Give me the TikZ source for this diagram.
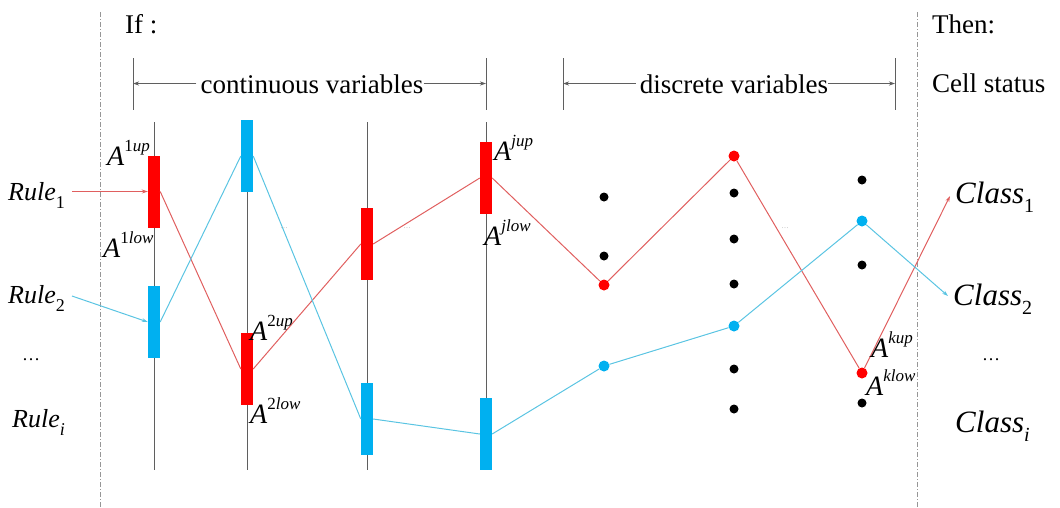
\documentclass[tikz,border=0pt]{standalone}
\usepackage{fontspec}
\setmainfont{Liberation Serif}
\usetikzlibrary{arrows.meta}
\definecolor{barred}{RGB}{255,0,0}
\definecolor{barblue}{RGB}{0,176,240}
\definecolor{linered}{RGB}{224,95,95}
\definecolor{lineblue}{RGB}{90,196,226}
\definecolor{axisgray}{RGB}{95,95,95}
\definecolor{sepgray}{RGB}{150,150,150}
\newcommand{\bigit}{\fontsize{26}{28}\selectfont\itshape}
\newcommand{\Aitsz}{\fontsize{28}{30}\selectfont\itshape}
\newcommand{\supsz}{\fontsize{17}{18}\selectfont}
\newcommand{\Asup}[2]{A\raisebox{14pt}{\supsz{\upshape #1}#2}}
\newcommand{\Lsub}[2]{#1\raisebox{-8pt}{\fontsize{18}{18}\selectfont #2}}
\newcommand{\Csub}[2]{#1\raisebox{-9pt}{\fontsize{20}{20}\selectfont #2}}
\tikzset{
  txt/.style={font=\fontsize{27}{29}\selectfont, inner sep=0pt, anchor=base west},
  lab/.style={font=\bigit, inner sep=0pt, anchor=base west},
  alab/.style={font=\Aitsz, inner sep=0pt, anchor=base west},
  clab/.style={font=\fontsize{31}{33}\selectfont\itshape, inner sep=0pt, anchor=base west},
  axisline/.style={draw=axisgray, line width=0.9pt},
  redbar/.style={fill=barred, minimum width=12pt, minimum height=72pt, inner sep=0pt},
  bluebar/.style={fill=barblue, minimum width=12pt, minimum height=72pt, inner sep=0pt},
  rline/.style={draw=linered, line width=1pt},
  bline/.style={draw=lineblue, line width=1pt},
  rdot/.style={circle, fill=barred, minimum size=11pt, inner sep=0pt},
  bdot/.style={circle, fill=barblue, minimum size=11pt, inner sep=0pt},
  kdot/.style={circle, fill=black, minimum size=9pt, inner sep=0pt},
  sepline/.style={draw=sepgray, line width=0.9pt, dash pattern=on 5pt off 2pt on 1pt off 2pt},
  brk/.style={draw=axisgray, line width=0.9pt},
  arr/.style={-{Stealth[length=6pt,width=4pt]}},
  faint/.style={font=\fontsize{7}{7}\selectfont, text=black!35, inner sep=0pt},
  ell/.style={font=\fontsize{18}{18}\selectfont, inner sep=0pt},
}
\begin{document}
\begin{tikzpicture}[x=1pt,y=-1pt]
\useasboundingbox (0,0) rectangle (1060,507);

% separators
\coordinate (s1t) at (100,12); \coordinate (s1b) at (100,507);
\coordinate (s2t) at (917,12); \coordinate (s2b) at (917,507);
\draw[sepline] (s1t) -- (s1b);
\draw[sepline] (s2t) -- (s2b);

% headers
\node[txt] (if) at (125,33) {If :};
\node[txt] (then) at (932,33) {Then:};
\node[txt] (cell) at (932,92) {Cell status};

% brackets
\coordinate (c1t) at (133,58); \coordinate (c1b) at (133,110);
\coordinate (c2t) at (486,58); \coordinate (c2b) at (486,110);
\coordinate (d1t) at (563,58); \coordinate (d1b) at (563,110);
\coordinate (d2t) at (895,58); \coordinate (d2b) at (895,110);
\draw[brk] (c1t) -- (c1b);
\draw[brk] (c2t) -- (c2b);
\draw[brk] (d1t) -- (d1b);
\draw[brk] (d2t) -- (d2b);
\coordinate (cla) at (133,83.5); \coordinate (cra) at (486,83.5);
\coordinate (dla) at (563,83.5); \coordinate (dra) at (895,83.5);
\node[font=\fontsize{27}{29}\selectfont, inner xsep=4pt, inner ysep=0pt, anchor=base] (cv) at (312,93) {continuous variables};
\node[font=\fontsize{27}{29}\selectfont, inner xsep=4pt, inner ysep=0pt, anchor=base] (dv) at (734,93) {discrete variables};
\draw[brk, arr] (cv.west |- cla) -- (cla);
\draw[brk, arr] ([xshift=-4pt]cv.east |- cra) -- (cra);
\draw[brk, arr] (dv.west |- dla) -- (dla);
\draw[brk, arr] ([xshift=-4pt]dv.east |- dra) -- (dra);

% axes
\foreach \i/\x in {1/154,2/247,3/367,4/486}{
  \coordinate (a\i t) at (\x,122);
  \coordinate (a\i b) at (\x,470);
  \draw[axisline] (a\i t) -- (a\i b);
}

% bars
\node[redbar] (r1) at (154,191.5) {};
\node[bluebar] (b1) at (154,322) {};
\node[bluebar] (b2) at (247,156) {};
\node[redbar] (r2) at (247,369) {};
\node[redbar] (r3) at (367,244) {};
\node[bluebar] (b3) at (367,419) {};
\node[redbar] (r4) at (486,178) {};
\node[bluebar] (b4) at (486,434) {};

% discrete dots
\node[kdot] (k1) at (604,197) {};
\node[kdot] (k2) at (604,256) {};
\node[rdot] (rd1) at (604,285) {};
\node[bdot] (bd1) at (604,366) {};
\node[rdot] (rd2) at (734,156) {};
\node[kdot] (k3) at (734,193) {};
\node[kdot] (k4) at (734,239) {};
\node[kdot] (k5) at (734,284) {};
\node[bdot] (bd2) at (734,326) {};
\node[kdot] (k6) at (734,369) {};
\node[kdot] (k7) at (734,409) {};
\node[kdot] (k8) at (862,180) {};
\node[bdot] (bd3) at (862,221) {};
\node[kdot] (k9) at (862,265) {};
\node[rdot] (rd3) at (862,373) {};
\node[kdot] (k10) at (862,403) {};

% rule and class labels
\node[lab] (rule1) at (8,200) {\Lsub{Rule}{\upshape 1}};
\node[lab] (rule2) at (8,303) {\Lsub{Rule}{\upshape 2}};
\node[ell] (ldots) at (31,360) {…};
\node[lab] (rulei) at (12,427) {\Lsub{Rule}{i}};
\node[clab] (class1) at (955,203) {\Csub{Class}{\upshape 1}};
\node[clab] (class2) at (953,305) {\Csub{Class}{\upshape 2}};
\node[ell] (rdots) at (991,360) {…};
\node[clab] (classi) at (955,432) {\Csub{Class}{i}};

% free ends
\coordinate (rs) at (72,191.5);
\coordinate (bs) at (72,296);
\coordinate (ce1) at (950,196);
\coordinate (ce2) at (948,296);

% red path
\draw[rline, arr] (rs) -- (r1.west);
\draw[rline] (r1.east) -- (r2.west);
\draw[rline] (r2.east) -- (r3.west);
\draw[rline] (r3.east) -- (r4.west);
\draw[rline] (r4.east) -- (rd1);
\draw[rline] (rd1) -- (rd2);
\draw[rline] (rd2) -- (rd3);
\draw[rline, arr] (rd3) -- (ce1);

% blue path
\draw[bline, arr] (bs) -- (b1.west);
\draw[bline] (b1.east) -- (b2.west);
\draw[bline] (b2.east) -- (b3.west);
\draw[bline] (b3.east) -- (b4.west);
\draw[bline] (b4.east) -- (bd1);
\draw[bline] (bd1) -- (bd2);
\draw[bline] (bd2) -- (bd3);
\draw[bline, arr] (bd3) -- (ce2);

% interval labels
\node[alab] (a1up) at (107,165) {\Asup{1}{up}};
\node[alab] (a1low) at (103,257) {\Asup{1}{low}};
\node[alab] (a2up) at (250,340) {\Asup{2}{up}};
\node[alab] (a2low) at (250,423) {\Asup{2}{low}};
\node[alab] (ajup) at (494,160) {\Asup{}{jup}};
\node[alab] (ajlow) at (484,245) {\Asup{}{jlow}};
\node[alab] (akup) at (871,357) {\Asup{}{kup}};
\node[alab] (aklow) at (866,395) {\Asup{}{klow}};

% faint ellipses
\node[faint] (f1) at (284,228) {…};
\node[faint] (f2) at (407,228) {…};
\node[faint] (f3) at (785,228) {…};
\end{tikzpicture}
\end{document}
